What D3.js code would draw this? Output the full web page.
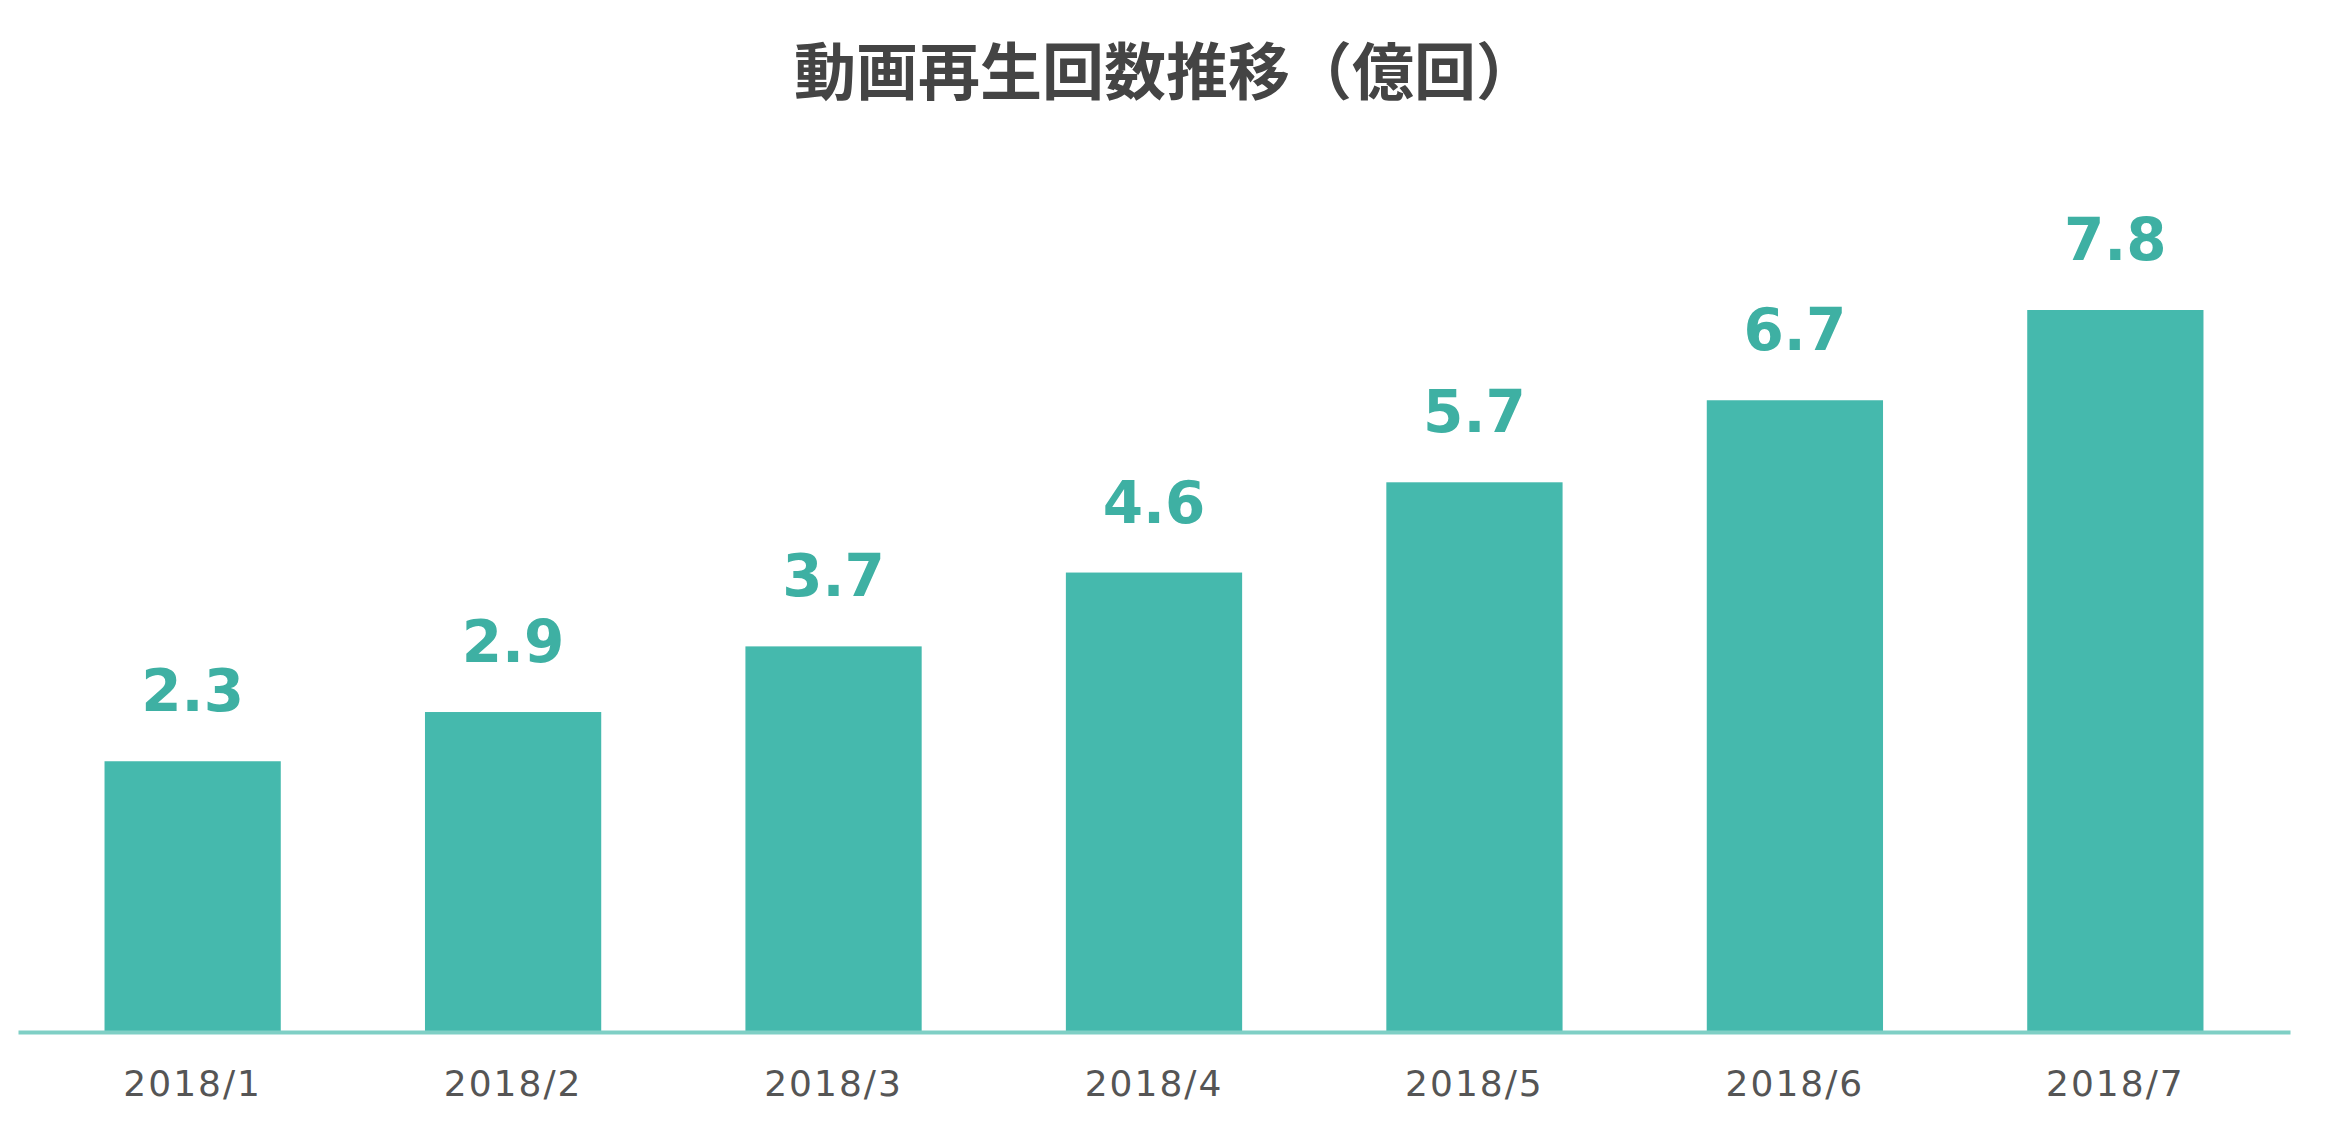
<!DOCTYPE html>
<html><head><meta charset="utf-8">
<script src="https://cdn.jsdelivr.net/npm/d3@7"></script>
<style>body{margin:0;background:#fff}</style></head>
<body><svg id="c" width="2334" height="1126"></svg>
<script>
const categories=["2018/1","2018/2","2018/3","2018/4","2018/5","2018/6","2018/7"];
const values=[2.3,2.9,3.7,4.6,5.7,6.7,7.8];
const title="動画再生回数推移（億回）";
const svg=d3.select("#c");
const base=-1.0;
const x=d3.scaleBand().domain(categories).range([18,2290]).paddingInner(0.45).paddingOuter(0.27);
const y=d3.scaleLinear().domain([base,7.8]).range([1032,310]);
svg.append("text").attr("x",1166).attr("y",95).attr("text-anchor","middle")
 .attr("font-family","'Noto Sans CJK JP'").attr("font-weight","bold").attr("font-size",62).attr("fill","#444").text(title);
svg.selectAll("rect.b").data(values).join("rect").attr("class","b")
 .attr("x",(d,i)=>x(categories[i])).attr("width",x.bandwidth())
 .attr("y",d=>y(d)).attr("height",d=>y(base)-y(d)).attr("fill","#45b9ad");
svg.selectAll("text.v").data(values).join("text").attr("class","v")
 .attr("x",(d,i)=>x(categories[i])+x.bandwidth()/2).attr("y",d=>y(d)-50)
 .attr("text-anchor","middle").attr("font-family","Verdana, 'DejaVu Sans'").attr("font-weight","bold")
 .attr("font-size",58).attr("fill","#3eb0a3").text(d=>d.toFixed(1));
const ax=svg.append("g").attr("transform","translate(0,1032)").call(d3.axisBottom(x).tickSize(0).tickPadding(0));
ax.select(".domain").attr("stroke","#7fcfc5").attr("stroke-width",4);
ax.selectAll("text").attr("y",64).attr("dy",0).attr("font-family","'DejaVu Sans'").attr("font-size",36)
 .attr("fill","#555").attr("letter-spacing",2);
</script></body></html>
